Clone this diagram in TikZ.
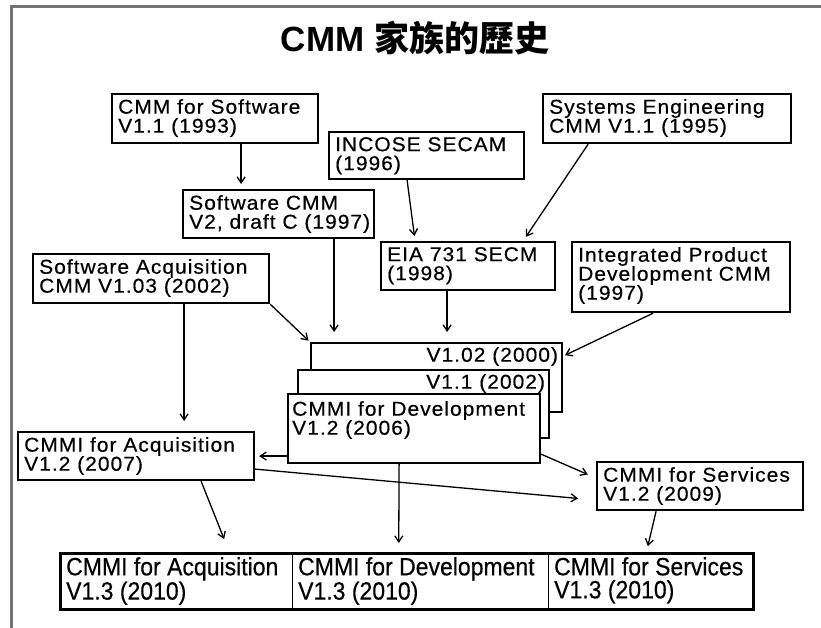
\documentclass[tikz,border=0pt]{standalone}
\usepackage{fontspec}
\setmainfont{Liberation Sans}
\newfontfamily\boxfont[FakeStretch=1.05,LetterSpace=5,FakeBold=0.4]{Liberation Sans}
\newfontfamily\lowfont[FakeStretch=0.92,FakeBold=0.4]{Liberation Sans}
\newfontfamily\cjkfont{Noto Sans CJK TC}
\usetikzlibrary{arrows.meta}

\begin{document}
\begin{tikzpicture}[x=1pt,y=-1pt,>={Straight Barb[length=6pt,width=8pt]}]
        % page is 821 x 628, y runs downwards
        \useasboundingbox (0,0) rectangle (821,628);
        \tikzstyle{block} = [draw,rectangle,line width=2.2pt,fill=white,anchor=north west,inner sep=0pt];
        \tikzstyle{txt} = [anchor=north west,align=left,inner xsep=7pt,inner ysep=6pt,font=\boxfont\fontsize{20pt}{19pt}\selectfont];
        \tikzstyle{lowtxt} = [anchor=north west,align=left,inner xsep=6pt,inner ysep=4pt,font=\lowfont\fontsize{25pt}{23pt}\selectfont];
        \tikzstyle{link} = [->,line width=1.3pt,shorten >=5pt];

        \draw[black!55,line width=3pt] (11.5,640) -- (11.5,6.5) -- (830,6.5);
        \node[font=\bfseries\fontsize{35pt}{35pt}\selectfont] (title) at (415,38) {CMM {\cjkfont 家族的歷史}};

        % the old models
        \node[block,minimum width=206pt,minimum height=49pt] (cmm_sw) at (111,93) {};
        \node[txt] (cmm_sw_t) at (cmm_sw.north west) {CMM for Software\\V1.1 (1993)};
        \node[block,minimum width=191pt,minimum height=48pt] (sw_cmm) at (182,189) {};
        \node[txt] (sw_cmm_t) at (sw_cmm.north west) {Software CMM\\V2, draft C (1997)};
        \node[block,minimum width=195pt,minimum height=47pt] (incose) at (328,131) {};
        \node[txt] (incose_t) at (incose.north west) {INCOSE SECAM\\(1996)};
        \node[block,minimum width=248pt,minimum height=49pt] (se_cmm) at (542,93) {};
        \node[txt] (se_cmm_t) at (se_cmm.north west) {Systems Engineering\\CMM V1.1 (1995)};
        \node[block,minimum width=174pt,minimum height=48pt] (eia) at (380,241) {};
        \node[txt] (eia_t) at (eia.north west) {EIA 731 SECM\\(1998)};
        \node[block,minimum width=218pt,minimum height=70pt] (ipd_cmm) at (571,241) {};
        \node[txt] (ipd_cmm_t) at (ipd_cmm.north west) {Integrated Product\\Development CMM\\(1997)};
        \node[block,minimum width=236pt,minimum height=49pt] (sa_cmm) at (32,253) {};
        \node[txt] (sa_cmm_t) at (sa_cmm.north west) {Software Acquisition\\CMM V1.03 (2002)};

        % CMMI stack
        \node[block,minimum width=251pt,minimum height=69pt] (v102) at (310,342) {};
        \node[txt,anchor=north east,inner sep=5pt] (v102_t) at (v102.north east) {V1.02 (2000)};
        \node[block,minimum width=251pt,minimum height=68pt] (v11) at (297,369) {};
        \node[txt,anchor=north east,inner sep=5pt] (v11_t) at (v11.north east) {V1.1 (2002)};
        \node[block,minimum width=252pt,minimum height=69pt] (dev12) at (287,393) {};
        \node[txt,inner xsep=5pt,inner ysep=8pt] (dev12_t) at (dev12.north west) {CMMI for Development\\V1.2 (2006)};

        \node[block,minimum width=236pt,minimum height=48pt] (acq12) at (17,431) {};
        \node[txt] (acq12_t) at (acq12.north west) {CMMI for Acquisition\\V1.2 (2007)};
        \node[block,minimum width=206pt,minimum height=48pt] (svc12) at (596,461) {};
        \node[txt] (svc12_t) at (svc12.north west) {CMMI for Services\\V1.2 (2009)};

        % V1.3 row
        \node[block,line width=1.4pt,minimum width=232pt,minimum height=55pt] (acq13) at (60,553) {};
        \node[lowtxt] (acq13_t) at (acq13.north west) {CMMI for Acquisition\\V1.3 (2010)};
        \node[block,line width=1.4pt,minimum width=256pt,minimum height=55pt] (dev13) at (292,553) {};
        \node[lowtxt] (dev13_t) at (dev13.north west) {CMMI for Development\\V1.3 (2010)};
        \node[block,line width=1.4pt,minimum width=204pt,minimum height=55pt] (svc13) at (548,553) {};
        \node[lowtxt] (svc13_t) at (svc13.north west) {CMMI for Services\\V1.3 (2010)};
        \draw[line width=3pt] (acq13.north west) rectangle (svc13.south east);

        \draw[link] ([xshift=26pt]cmm_sw.south) -- ([xshift=-37.5pt]sw_cmm.north);
        \draw[link,shorten >=10pt] ([xshift=55.5pt]sw_cmm.south) -- ([xshift=-102.5pt]v102.north);
        \draw[link] ([xshift=-19.5pt]incose.south) -- ([xshift=-53pt]eia.north);
        \draw[link] ([xshift=-79pt]se_cmm.south) -- ([xshift=55pt]eia.north);
        \draw[link,shorten >=10pt] ([xshift=-21pt]eia.south) -- ([xshift=10.5pt]v102.north);
        \draw[link,shorten >=2pt] ([xshift=-28pt]ipd_cmm.south) -- ([yshift=21.5pt]v102.east);
        \draw[link,shorten >=2pt] (sa_cmm.south east) -- (v102.north west);
        \draw[link,shorten >=10pt] ([xshift=33pt]sa_cmm.south) -- ([xshift=48pt]acq12.north);
        \draw[link,shorten >=4pt] (dev12.west |- acq12.east) -- (acq12.east);
        \draw[link,shorten >=9pt] ([yshift=10pt]dev12.south east) -- ([yshift=8pt]svc12.west);
        \draw[link,shorten >=18pt] ([yshift=-13pt]acq12.east) -- ([yshift=-14pt]svc12.west);
        \draw[link,shorten >=15pt] ([xshift=65pt]acq12.south) -- ([xshift=53pt]acq13.north);
        \draw[link,shorten >=10pt] ([xshift=-15pt]dev12.south) -- ([xshift=-22pt]dev13.north);
        \draw[link,shorten >=7pt] ([xshift=-44pt]svc12.south) -- ([xshift=-4.5pt]svc13.north);

\end{tikzpicture}
\end{document}
